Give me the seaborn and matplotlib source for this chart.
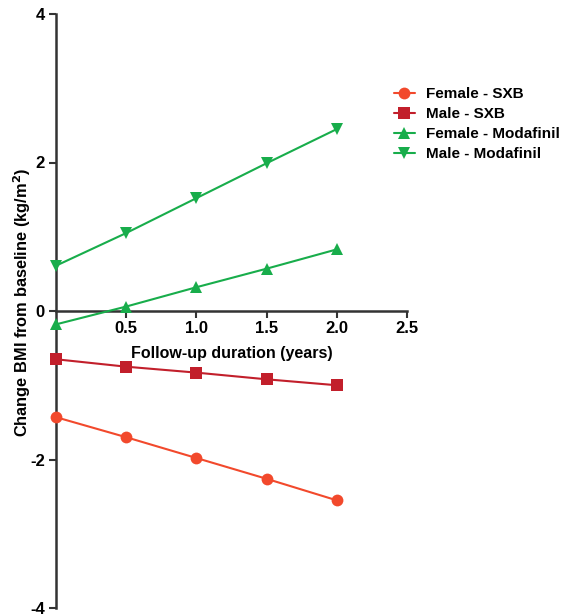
import numpy as np
import pandas as pd
import matplotlib
matplotlib.use("Agg")
import matplotlib.pyplot as plt
import seaborn as sns

# follow-up time points (years)
years = [0.0, 0.5, 1.0, 1.5, 2.0]

# change in BMI
female_sxb = [-1.43, -1.70, -1.98, -2.26, -2.55]
male_sxb = [-0.65, -0.75, -0.83, -0.92, -1.00]
female_moda = [-0.18, 0.06, 0.32, 0.57, 0.83]
male_moda = [0.61, 1.05, 1.52, 1.99, 2.45]

series_names = ["Female - SXB", "Male - SXB", "Female - Modafinil", "Male - Modafinil"]
series_vals = [female_sxb, male_sxb, female_moda, male_moda]
colors = ["#F2492C", "#C21F2B", "#18AD4B", "#18AD4B"]
markers = ["o", "s", "^", "v"]

sns.set_style("white")
plt.rcParams["font.family"] = ["Liberation Sans", "DejaVu Sans"]
plt.rcParams["font.weight"] = "bold"
plt.rcParams["text.color"] = "black"
plt.rcParams["axes.labelcolor"] = "black"
plt.rcParams["xtick.color"] = "black"
plt.rcParams["ytick.color"] = "black"

fig = plt.figure(figsize=(5.63, 6.16), dpi=100)
ax = fig.add_axes([56 / 563, 8 / 616, (407 - 56) / 563, (608 - 14) / 616])

rows = []
for name, vals in zip(series_names, series_vals):
    for x, y in zip(years, vals):
        rows.append({"Years": x, "BMI": y, "Group": name})
df = pd.DataFrame(rows)

for name, c, m in zip(series_names, colors, markers):
    sub = df[df["Group"] == name]
    sns.lineplot(data=sub, x="Years", y="BMI", ax=ax, color=c, marker=m,
                 markersize=8.5, markeredgewidth=0, linewidth=1.5,
                 label=name, clip_on=False, zorder=3)

ax.set_xlim(0, 2.5)
ax.set_ylim(-4, 4)
ax.spines["right"].set_visible(False)
ax.spines["top"].set_visible(False)
ax.spines["bottom"].set_position(("data", 0))
for s in ["left", "bottom"]:
    ax.spines[s].set_linewidth(1.8)
    ax.spines[s].set_color("#333333")

ax.set_xticks([0.5, 1.0, 1.5, 2.0, 2.5])
ax.set_xticklabels(["0.5", "1.0", "1.5", "2.0", "2.5"])
ax.set_yticks([-4, -2, 0, 2, 4])
ax.set_yticklabels(["-4", "-2", "0", "2", "4"])
ax.tick_params(axis="both", direction="out", length=5, width=1.5,
               bottom=True, left=True, color="#333333", labelcolor="black",
               labelsize=12, pad=3)
ax.tick_params(axis="x", pad=2)
for lab in ax.get_xticklabels() + ax.get_yticklabels():
    lab.set_fontweight("bold")

ax.set_xlabel("Follow-up duration (years)", fontsize=11.5, fontweight="bold")
ax.xaxis.set_label_coords(0.5, 0.441)
ax.set_ylabel("Change BMI from baseline (kg/m$^2$)", fontsize=11.8, fontweight="bold")
ax.yaxis.set_label_coords(-0.065, 0.515)

ax.legend_.remove()
handles, labels = ax.get_legend_handles_labels()
fig.legend(handles, labels, loc="upper left", bbox_to_anchor=(388 / 563, 1 - 81 / 616),
           frameon=False, fontsize=11, handlelength=1.35, handletextpad=0.75,
           labelspacing=0.4, borderaxespad=0)

fig.savefig("out.png", dpi=100)
